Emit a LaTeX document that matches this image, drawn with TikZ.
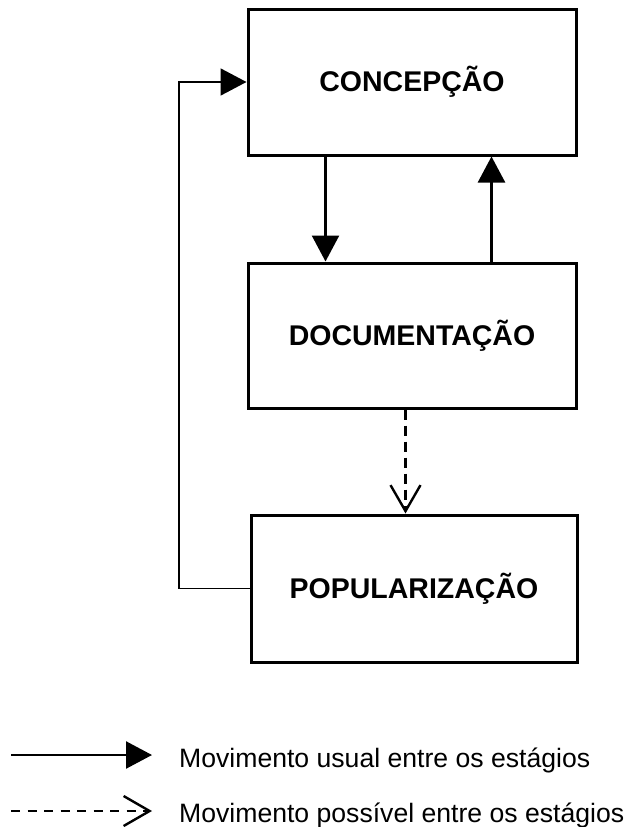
\documentclass[tikz,border=0pt]{standalone}
\usepackage{fontspec}
\setmainfont{Liberation Sans}
\usetikzlibrary{arrows.meta,calc}

\tikzset{
  stage/.style={draw, line width=3pt, inner sep=0pt, align=center,
    font=\fontsize{28.5}{32}\selectfont\bfseries},
  usual/.style={line width=2.4pt, -{Triangle[length=26pt,width=27pt]}},
  feedback/.style={line width=1.8pt, -{Triangle[length=26pt,width=27pt]}},
  possible/.style={line width=2.4pt, dash pattern=on 10pt off 6pt,
    -{Straight Barb[length=26pt,width=30pt,line width=2.4pt]}},
  legendtext/.style={anchor=base west, inner sep=0pt,
    font=\fontsize{26.6}{30}\selectfont},
}

\begin{document}
\begin{tikzpicture}[x=1pt,y=-1pt]
  \useasboundingbox (0,0) rectangle (624,827);

  % the three stages
  \node[stage, minimum width=328pt, minimum height=146pt] (conc) at (412,82) {CONCEPÇÃO};
  \node[stage, minimum width=328pt, minimum height=145pt] (doc) at (412,335.5) {DOCUMENTAÇÃO};
  \node[stage, minimum width=326pt, minimum height=147pt] (pop) at (414,588.5) {POPULARIZAÇÃO};

  % usual movements between concepção and documentação
  \coordinate (down) at ($(conc.south west)+(79,0)$);
  \coordinate (up) at ($(conc.south west)+(245,0)$);
  \draw[usual] (down) -- (down |- doc.north);
  \draw[usual] (up |- doc.north) -- (up);

  % possible movement towards popularização
  \coordinate (pos) at ($(doc.south west)+(159,0)$);
  \draw[possible] (pos) -- (pos |- pop.north);

  % return from popularização to concepção
  \coordinate (fb) at (179,0);
  \draw[feedback] (pop.west) -- (pop.west -| fb) |- (conc.west);

  % legend
  \coordinate (ua) at (11,755);
  \coordinate (ub) at (152,755);
  \draw[usual] (ua) -- (ub);
  \node[legendtext] (ut) at (179,767) {Movimento usual entre os estágios};

  \coordinate (pa) at (11,811);
  \coordinate (pb) at (152,811);
  \draw[possible, dash pattern=on 9pt off 7.5pt] (pa) -- (pb);
  \node[legendtext] (pt) at (179,822) {Movimento possível entre os estágios};
\end{tikzpicture}
\end{document}
